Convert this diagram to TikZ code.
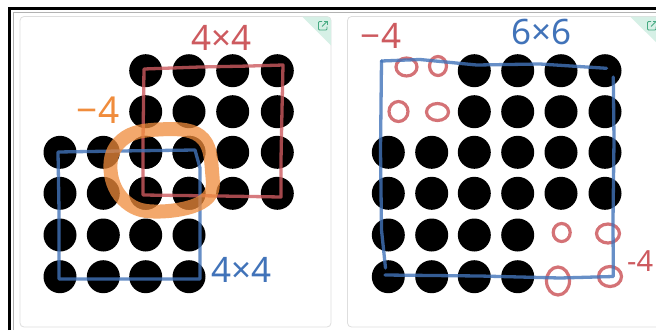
\documentclass[tikz,border=0pt]{standalone}
\usepackage{fontspec}
\setmainfont{Noto Sans}
\definecolor{penred}{RGB}{205,90,95}
\definecolor{penblue}{RGB}{65,115,185}
\definecolor{penorange}{RGB}{240,140,60}
\definecolor{mint}{RGB}{214,240,230}
\definecolor{icongreen}{RGB}{70,170,130}
\definecolor{panelgray}{RGB}{222,222,222}
\begin{document}
\begin{tikzpicture}[x=1pt,y=-1pt,
  pen/.style={line width=3.3pt, line cap=round, line join=round, opacity=0.8},
  ring/.style={line width=3.2pt, draw=penred, opacity=0.85},
  hand/.style={font=\fontsize{35}{35}\selectfont, inner sep=0pt},
  panel/.style={draw=panelgray, line width=0.8pt, rounded corners=4pt, fill=white}]
\useasboundingbox (0,0) rectangle (656,330);
\clip (0,0) rectangle (656,330);
\fill[white] (0,0) rectangle (656,330);
% outer frame
\draw[black, line width=2.6pt] (9.5,330) -- (9.5,8.5) -- (660,8.5);
\draw[gray!60, line width=0.6pt] (13,330) -- (13,11.8) -- (660,11.8);
% panels
\draw[panel] (20,16.5) rectangle (331,327);
\draw[panel] (347.5,16.5) rectangle (662,327);
% mint corners with icons
\begin{scope}
  \clip[rounded corners=4pt] (20,16.5) rectangle (331,327);
  \fill[mint] (302,16.5) -- (331.5,16.5) -- (331.5,46) -- cycle;
\end{scope}
\begin{scope}
  \clip[rounded corners=4pt] (347.5,16.5) rectangle (662,327);
  \fill[mint] (630,16.5) -- (662,16.5) -- (662,48) -- cycle;
\end{scope}
\foreach \ix in {318.5,647.5}{
  \draw[icongreen, line width=0.9pt, rounded corners=1pt]
    (\ix+3.5,21.5) -- (\ix,21.5) -- (\ix,30) -- (\ix+8.5,30) -- (\ix+8.5,26.5);
  \draw[icongreen, line width=0.9pt] (\ix+3.5,26.5) -- (\ix+8.5,21.5);
  \draw[icongreen, line width=0.9pt] (\ix+5.5,21.5) -- (\ix+8.5,21.5) -- (\ix+8.5,24.5);
}
% left panel dots
\foreach \cx in {145.7,189,232.7,277.3}
  \foreach \cy in {70.7,111.7,152.3,193.3}
    \fill[black] (\cx,\cy) circle[radius=16.5];
\foreach \cx in {60,103.3,145.7,189}
  \foreach \cy in {152.3,193.3,235,276.7}
    \fill[black] (\cx,\cy) circle[radius=16.5];
% red 4x4 box
\draw[pen, penred] (144,69) -- (200,67) -- (250,66) -- (283,65) -- (282,110) -- (281,160) -- (281,197)
  -- (220,196) -- (143,195) -- (143,140) -- (144,69);
% blue 4x4 box
\draw[pen, penblue] (58,152) -- (120,151) -- (195,150) -- (200,168) -- (200,230) -- (200,279)
  -- (140,279) -- (59,279) -- (59,210) -- (58,152);
% orange ring
\draw[penorange, line width=14pt, opacity=0.75, line join=round]
  plot[smooth cycle, tension=0.7] coordinates {(110.5,170) (122,140) (158,129.5) (200,136) (212,171) (205,200) (160,211.5) (126,202)};
% labels left
\node[hand, text=penred] (lblredA) at (221.5,37.5) {4×4};
\node[hand, text=penorange, font=\fontsize{37}{37}\selectfont] (lblorange) at (98,110) {−4};
\node[hand, text=penblue] (lblblueA) at (241.5,270) {4×4};
% right panel dots
\foreach \cx/\cy in {474.3/70.7,517.7/70.7,561/70.7,605/70.7,
                     474.3/111.7,517.7/111.7,561/111.7,605/111.7,
                     388.3/152.3,431.7/152.3,474.3/152.3,517.7/152.3,561/152.3,605/152.3,
                     388.3/193.3,431.7/193.3,474.3/193.3,517.7/193.3,561/193.3,605/193.3,
                     388.3/235,431.7/235,474.3/235,517.7/235,
                     388.3/276.7,431.7/276.7,474.3/276.7,517.7/276.7}
  \fill[black] (\cx,\cy) circle[radius=16.5];
% red removed-dot rings
\draw[ring] (406.5,67) ellipse[x radius=10.5, y radius=9];
\draw[ring] (438,66) ellipse[x radius=8.5, y radius=9.5];
\draw[ring] (398.5,111.5) ellipse[x radius=9.5, y radius=10];
\draw[ring] (437.5,112) ellipse[x radius=11, y radius=8.5];
\draw[ring] (561.7,232.5) ellipse[x radius=8.5, y radius=9];
\draw[ring] (608,233.5) ellipse[x radius=11.5, y radius=9.5];
\draw[ring] (558,281) ellipse[x radius=11.5, y radius=14];
\draw[ring] (610,276.5) ellipse[x radius=11.5, y radius=10];
% blue 6x6 box
\draw[pen, penblue] (381.5,61) -- (420,59.5) -- (476.7,65) -- (540,64) -- (606.5,68.3);
\draw[pen, penblue] (613.3,77) -- (614,140) -- (613,220) -- (613.3,276.5) -- (560,278) -- (480,276) -- (385,275);
\draw[pen, penblue] (385.5,268) -- (381.5,230) -- (380.5,150) -- (381.5,61);
% labels right
\node[hand, text=penred] (lblredB) at (381,36) {−4};
\node[hand, text=penblue] (lblblueB) at (541.5,32.5) {6×6};
\node[hand, text=penred, font=\fontsize{29}{29}\selectfont, anchor=west] (lblredC) at (627,261) {-4};
\end{tikzpicture}
\end{document}
